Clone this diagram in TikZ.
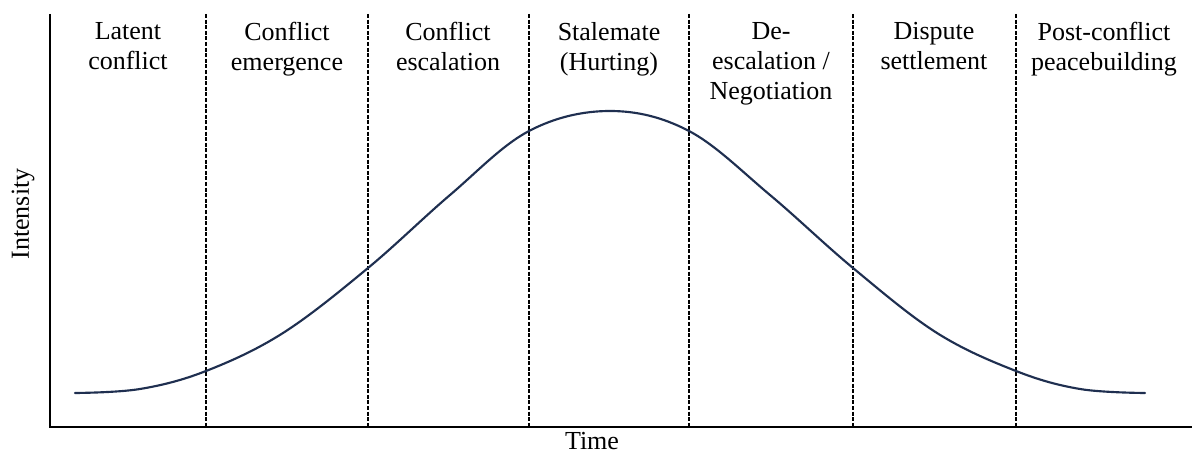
\documentclass[tikz,border=0pt]{standalone}
\usepackage{fontspec}
\setmainfont{Liberation Serif}
\usepackage{tikz}
\usetikzlibrary{positioning,calc}

\definecolor{curvenavy}{HTML}{1F2F50}

\tikzset{
	phase/.style={anchor=north,inner sep=0pt,align=center,font=\fontsize{19.5pt}{22.5pt}\selectfont},
	axislabel/.style={inner sep=0pt,font=\fontsize{19.5pt}{22.5pt}\selectfont},
	divider/.style={draw=black,line width=1.1pt,dash pattern=on 3pt off 1.2pt},
	axisline/.style={draw=black,line width=1.5pt},
	intensitycurve/.style={draw=curvenavy,line width=1.6pt,line cap=round}
}

\begin{document}
\begin{tikzpicture}[x=0.75pt,y=-0.75pt]
		\useasboundingbox (0,0) rectangle (1192,456);
		
		% axes
		\coordinate (o) at (50,427);
		\coordinate (ytop) at (50,14);
		\coordinate (xend) at (1192,427);
		
		% phase dividers
		\foreach \x [count=\i] in {206,368,529,689,853,1016}{
			\coordinate (d\i t) at (\x,14);
			\coordinate (d\i b) at (\x,427);
			\draw[divider] (d\i t) -- (d\i b);
		}
		
		\draw[axisline] (ytop) -- (o) -- (xend);
		
		% phase labels
		\node[phase] (p1) at (128,22) {Latent\\conflict};
		\node[phase] (p2) at (287,22) {Conflict\\emergence};
		\node[phase] (p3) at (448,22) {Conflict\\escalation};
		\node[phase] (p4) at (609,22) {Stalemate\\(Hurting)};
		\node[phase] (p5) at (771,22) {De-\\escalation /\\Negotiation};
		\node[phase] (p6) at (934,22) {Dispute\\settlement};
		\node[phase] (p7) at (1104,22) {Post-conflict\\peacebuilding};
		
		\node[axislabel,rotate=90] (intensity) at (23,214) {Intensity};
		\node[axislabel] (time) at (592,441) {Time};
		
		% conflict curve
		\draw[intensitycurve] plot[smooth,tension=0.6] coordinates {
			(75,393) (140,389) (206,371) (283,333) (368,268) (450,195) (529,131)
			(610,111)
			(689,131) (770,195) (853,268) (937,333) (1016,371) (1080,389) (1145,393)};
	\end{tikzpicture}
\end{document}
